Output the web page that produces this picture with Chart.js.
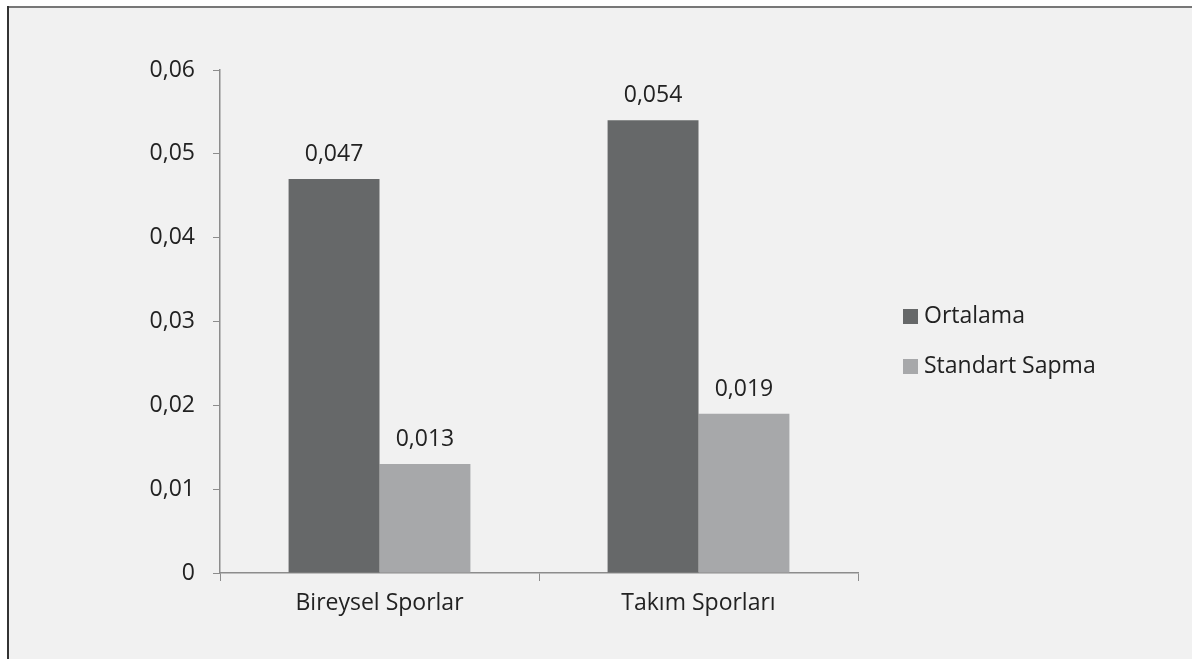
<!DOCTYPE html>
<html><head><meta charset="utf-8">
<script src="https://cdn.jsdelivr.net/npm/chart.js@4/dist/chart.umd.min.js"></script>
<style>html,body{margin:0;padding:0;background:#fff;}#wrap{width:1192px;height:659px;position:relative;}</style>
</head><body><div id="wrap"><canvas id="c" width="1192" height="659"></canvas></div>
<script>
const categories = ["Bireysel Sporlar", "Takım Sporları"];
const seriesNames = ["Ortalama", "Standart Sapma"];
const ortalama = [0.047, 0.054];
const standartSapma = [0.013, 0.019];
const yTicks = [0, 0.01, 0.02, 0.03, 0.04, 0.05, 0.06];
const colors = ["#666869", "#a7a8aa"];
const FONT = "'Open Sans', sans-serif";
const FS = 23;
const fmt = v => v === 0 ? "0" : String(v).replace('.', ',');

const frame = {
  id: 'frame',
  beforeDraw(chart) {
    const ctx = chart.ctx;
    ctx.save();
    ctx.fillStyle = '#f1f1f1';
    ctx.fillRect(7, 6, 1192, 659);
    ctx.fillStyle = '#777';
    ctx.fillRect(7, 6, 1192, 2);
    ctx.fillStyle = '#333';
    ctx.fillRect(7, 6, 2, 659);
    ctx.restore();
  }
};
const labels = {
  id: 'valLabels',
  afterDatasetsDraw(chart) {
    const ctx = chart.ctx;
    ctx.save();
    ctx.font = FS + "px " + FONT;
    ctx.fillStyle = '#222';
    ctx.textAlign = 'center';
    ctx.textBaseline = 'alphabetic';
    chart.data.datasets.forEach((ds, i) => {
      chart.getDatasetMeta(i).data.forEach((bar, j) => {
        ctx.fillText(fmt(ds.data[j]), bar.x, bar.y - 18);
      });
    });
    ctx.restore();
  }
};
const legend = {
  id: 'customLegend',
  afterDraw(chart) {
    const ctx = chart.ctx;
    ctx.save();
    ctx.font = FS + "px " + FONT;
    ctx.textBaseline = 'middle';
    ctx.textAlign = 'left';
    chart.data.datasets.forEach((ds, i) => {
      const y = 316.5 + i * 50;
      ctx.fillStyle = ds.backgroundColor;
      ctx.fillRect(903, y - 7.5, 15, 15);
      ctx.fillStyle = '#222';
      ctx.fillText(ds.label, 924, y);
    });
    ctx.restore();
  }
};

new Chart(document.getElementById('c'), {
  type: 'bar',
  data: {
    labels: categories,
    datasets: [
      { label: seriesNames[0], data: ortalama, backgroundColor: colors[0] },
      { label: seriesNames[1], data: standartSapma, backgroundColor: colors[1] }
    ]
  },
  options: {
    responsive: false,
    animation: false,
    devicePixelRatio: 1,
    layout: { padding: { left: 0, top: 70, right: 334, bottom: 0 } },
    datasets: { bar: { categoryPercentage: 0.57, barPercentage: 1.0 } },
    plugins: { legend: { display: false }, tooltip: { enabled: false } },
    scales: {
      x: {
        afterFit(s) { s.height = 86; },
        grid: { display: true, offset: true, drawOnChartArea: false, drawTicks: true, tickLength: 8, color: '#8c8c8c' },
        border: { display: true, color: '#8c8c8c', width: 1.5 },
        ticks: { color: '#222', font: { family: FONT, size: FS }, padding: 9 }
      },
      y: {
        min: 0, max: 0.06,
        afterFit(s) { s.width = 220; },
        afterBuildTicks(s) { s.ticks = yTicks.map(v => ({ value: v })); },
        grid: { display: true, drawOnChartArea: false, drawTicks: true, tickLength: 7, color: '#8c8c8c' },
        border: { display: true, color: '#8c8c8c', width: 1.5 },
        ticks: { color: '#222', font: { family: FONT, size: FS }, padding: 18, callback: v => fmt(v) }
      }
    }
  },
  plugins: [frame, labels, legend]
});
</script></body></html>
